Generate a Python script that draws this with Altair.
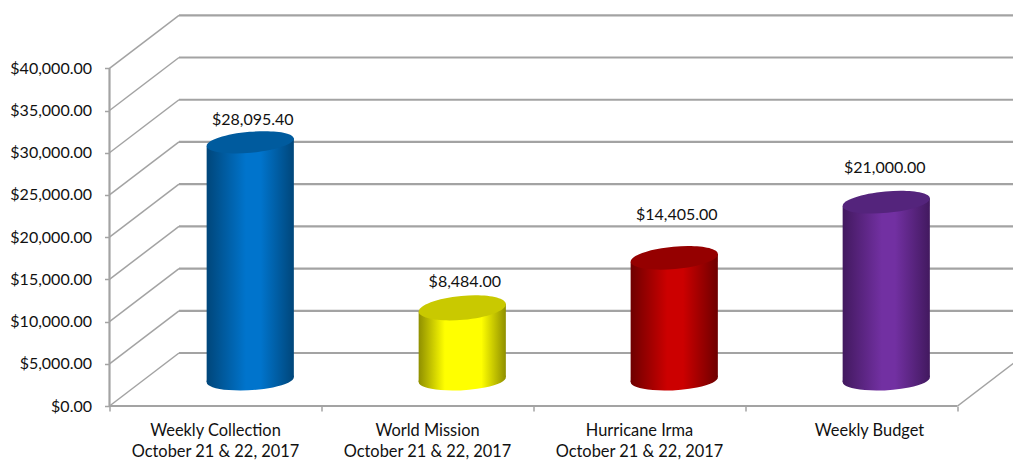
import altair as alt
import pandas as pd

categories = ["Weekly Collection", "World Mission", "Hurricane Irma", "Weekly Budget"]
dates = ["October 21 & 22, 2017", "October 21 & 22, 2017", "October 21 & 22, 2017", ""]
values = [28095.40, 8484.00, 14405.00, 21000.00]
y_ticks = [0, 5000, 10000, 15000, 20000, 25000, 30000, 35000, 40000]

edge_colors = ["#00467a", "#8f8f00", "#6e0000", "#42195f"]
mid_colors = ["#0074cc", "#ffff00", "#cc0000", "#7230a2"]
cap_colors = ["#005b9e", "#c9c900", "#950000", "#54247c"]
grad_start = [0.45, 0.3, 0.42, 0.45]
grad_end = [0.62, 0.72, 0.6, 0.6]
label_dy = [-22, -26, -43, -34]
label_dx = [0, 0, 0, -4]
category_dx = [0, 0, 0, 18]
cap_minor = [0.24, 0.275, 0.255, 0.245]

FONT = "Lato"
FONT_SIZE = 16
CAT_FONT_SIZE = 16.4
GRID = "#a3a3a3"
X_UNIT = 212.0
Y_PER_PX = 40000 / 337.7
DEPTH_X = 69.5 / X_UNIT
DEPTH_Y = 53 * Y_PER_PX
X_MAX = 903.5 / X_UNIT
Y_MAX = 396 * Y_PER_PX
HALF_W = 43.6 / X_UNIT
TILT_TOP = 4 * Y_PER_PX
TILT_BOT = 2.6 * Y_PER_PX

BOT_SHAPE = "M-1,0.06A1.002,0.24,-3.4,1,1,1,-0.06A1.002,0.24,-3.4,1,1,-1,0.06Z"


def top_shape(minor):
    return f"M-1,0.09A1.004,{minor},-5.2,1,1,1,-0.09A1.004,{minor},-5.2,1,1,-1,0.09Z"


xs = alt.Scale(domain=[0, X_MAX], nice=False, zero=False)
ys = alt.Scale(domain=[0, Y_MAX], nice=False, zero=False)

axis_x = alt.Axis(values=[0, 1, 2, 3, 4], labels=False, tickSize=5, tickColor=GRID, tickWidth=1.5,
                  domain=False, grid=False, title=None)
axis_y = alt.Axis(values=y_ticks, format="$,.2f", labelFont=FONT, labelFontSize=FONT_SIZE, labelColor="#111111",
                  labelPadding=13, tickSize=5, tickColor=GRID, tickWidth=1.5, domain=False, grid=False,
                  title=None)


def X(field="x"):
    return alt.X(f"{field}:Q", scale=xs, axis=axis_x, title=None)


def Y(field="y"):
    return alt.Y(f"{field}:Q", scale=ys, axis=axis_y, title=None)


# Walls
oblique = pd.DataFrame({"x": [0.0] * len(y_ticks), "x2": [DEPTH_X] * len(y_ticks),
                        "y": y_ticks, "y2": [v + DEPTH_Y for v in y_ticks]})
back = pd.DataFrame({"x": [DEPTH_X] * len(y_ticks), "x2": [X_MAX] * len(y_ticks),
                     "y": [v + DEPTH_Y for v in y_ticks], "y2": [v + DEPTH_Y for v in y_ticks]})
floor_edge = pd.DataFrame({"x": [4.0], "x2": [4 + DEPTH_X], "y": [0.0], "y2": [DEPTH_Y]})
front_y = pd.DataFrame({"x": [0.0], "x2": [0.0], "y": [0.0], "y2": [40000.0]})
front_x = pd.DataFrame({"x": [0.0], "x2": [4.0], "y": [0.0], "y2": [0.0]})


def rules(df, width, clip=False):
    return alt.Chart(df).mark_rule(color=GRID, strokeWidth=width, clip=clip).encode(
        x=X(), x2="x2:Q", y=Y(), y2="y2:Q")


layers = [
    rules(oblique, 1.5),
    rules(back, 2.2, clip=True),
    rules(floor_edge, 1.5, clip=True),
    rules(front_y, 2.2),
    rules(front_x, 2.2),
]

# Cylinders
for i, v in enumerate(values):
    cx = i + 0.5 + DEPTH_X / 2
    base = DEPTH_Y / 2
    top = v + base
    grad = alt.Gradient(
        gradient="linear", x1=0, x2=1, y1=0, y2=0,
        stops=[
            alt.GradientStop(offset=0, color=edge_colors[i]),
            alt.GradientStop(offset=grad_start[i], color=mid_colors[i]),
            alt.GradientStop(offset=grad_end[i], color=mid_colors[i]),
            alt.GradientStop(offset=1, color=edge_colors[i]),
        ],
    )
    bottom = pd.DataFrame({"x": [cx], "y": [base]})
    layers.append(alt.Chart(bottom).mark_point(shape=BOT_SHAPE, size=7600, filled=True, fill=grad, opacity=1,
                                               strokeWidth=0).encode(x=X(), y=Y()))
    body = pd.DataFrame({"x": [cx - HALF_W, cx + HALF_W],
                         "y": [top - TILT_TOP, top + TILT_TOP],
                         "y2": [base - TILT_BOT, base + TILT_BOT]})
    layers.append(alt.Chart(body).mark_area(fill=grad, opacity=1).encode(x=X(), y=Y(), y2="y2:Q"))
    cap = pd.DataFrame({"x": [cx], "y": [top]})
    layers.append(alt.Chart(cap).mark_point(shape=top_shape(cap_minor[i]), size=7600, filled=True,
                                            fill=cap_colors[i], opacity=1, strokeWidth=0).encode(x=X(), y=Y()))
    lab = pd.DataFrame({"x": [cx + 0.012], "y": [top], "value": [v]})
    layers.append(alt.Chart(lab).mark_text(font=FONT, fontSize=FONT_SIZE, color="#111111", dy=label_dy[i],
                                           dx=label_dx[i]).encode(
        x=X(), y=Y(), text=alt.Text("value:Q", format="$,.2f")))

    # Category label
    cat_df = pd.DataFrame({"x": [i + 0.5], "y": [0.0],
                           "line": [categories[i] + ("\n" + dates[i] if dates[i] else "")]})
    layers.append(alt.Chart(cat_df).mark_text(font=FONT, fontSize=CAT_FONT_SIZE, color="#111111", lineBreak="\n",
                                              lineHeight=21, baseline="top", dy=17, dx=category_dx[i]).encode(
        x=X(), y=Y(), text="line:N"))

chart = alt.layer(*layers).properties(
    width=903.5, height=396,
    padding={"left": 101.5, "top": 2, "right": 0, "bottom": 54},
    autosize=alt.AutoSizeParams(type="none"),
    background="white",
).configure_view(stroke=None)

chart.save("out.html", embed_options={"renderer": "svg", "actions": False})
